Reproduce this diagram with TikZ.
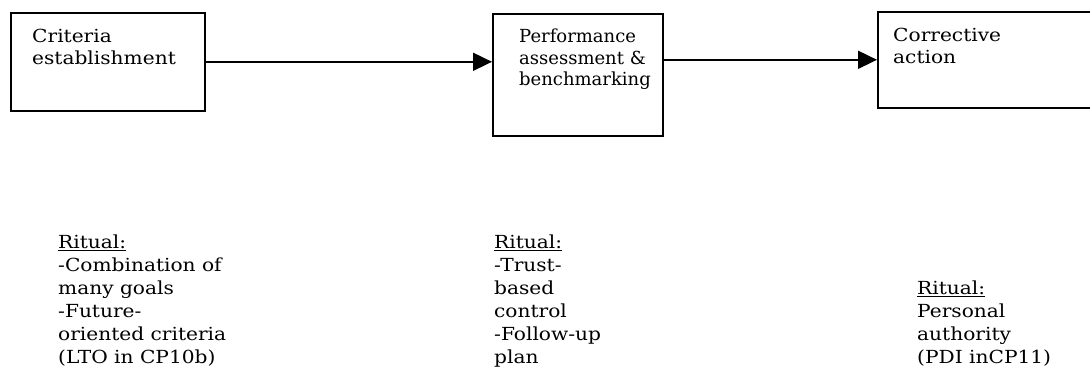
\documentclass[tikz,border=0pt]{standalone}
\usepackage{fontspec}
\setmainfont{DejaVu Serif}
\newfontfamily\widerserif[FakeStretch=1.12]{DejaVu Serif}
\usetikzlibrary{arrows.meta}
\begin{document}
\begin{tikzpicture}[x=1pt,y=-1pt,
  stagebox/.style={draw=black, line width=1.6pt, rectangle, inner sep=0pt, anchor=north west},
  boxlabel/.style={anchor=north west, inner sep=0pt, align=left,
    font=\fontsize{18}{21.5}\selectfont},
  widelabel/.style={boxlabel, font=\widerserif\fontsize{18}{21.5}\selectfont},
  ritual/.style={anchor=north west, inner sep=0pt, align=left,
    font=\widerserif\fontsize{18}{23}\selectfont},
  flow/.style={line width=1.8pt, -{Triangle[length=19pt, width=18pt]}}]
  \useasboundingbox (0,0) rectangle (1090,379);
  \clip (0,0) rectangle (1090,379);

  % the three stages
  \node[stagebox, minimum width=194pt, minimum height=98pt] (crit) at (10,12) {};
  \node[stagebox, minimum width=170pt, minimum height=122pt] (perf) at (492,13) {};
  \node[stagebox, minimum width=240pt, minimum height=96pt]  (corr) at (877,11) {};

  \node[widelabel] (critlbl) at (32,29) {Criteria\\establishment};
  \node[boxlabel] (perflbl) at (519,29) {Performance\\assessment \&\\benchmarking};
  \node[widelabel] (corrlbl) at (893,28) {Corrective\\action};

  % flow between stages
  \draw[flow] (crit.east) -- (perf.west |- crit.east);
  \draw[flow] (perf.east |- corr.west) -- (corr.west);

  % rituals below each stage
  \node[ritual] (critrit) at (58,235)
    {\underline{Ritual:}\\-Combination of\\many goals\\-Future-\\oriented criteria\\(LTO in CP10b)};
  \node[ritual] (perfrit) at (494,235)
    {\underline{Ritual:}\\-Trust-\\based\\control\\-Follow-up\\plan};
  \node[ritual] (corrrit) at (917,281)
    {\underline{Ritual:}\\Personal\\authority\\(PDI inCP11)};
\end{tikzpicture}
\end{document}
